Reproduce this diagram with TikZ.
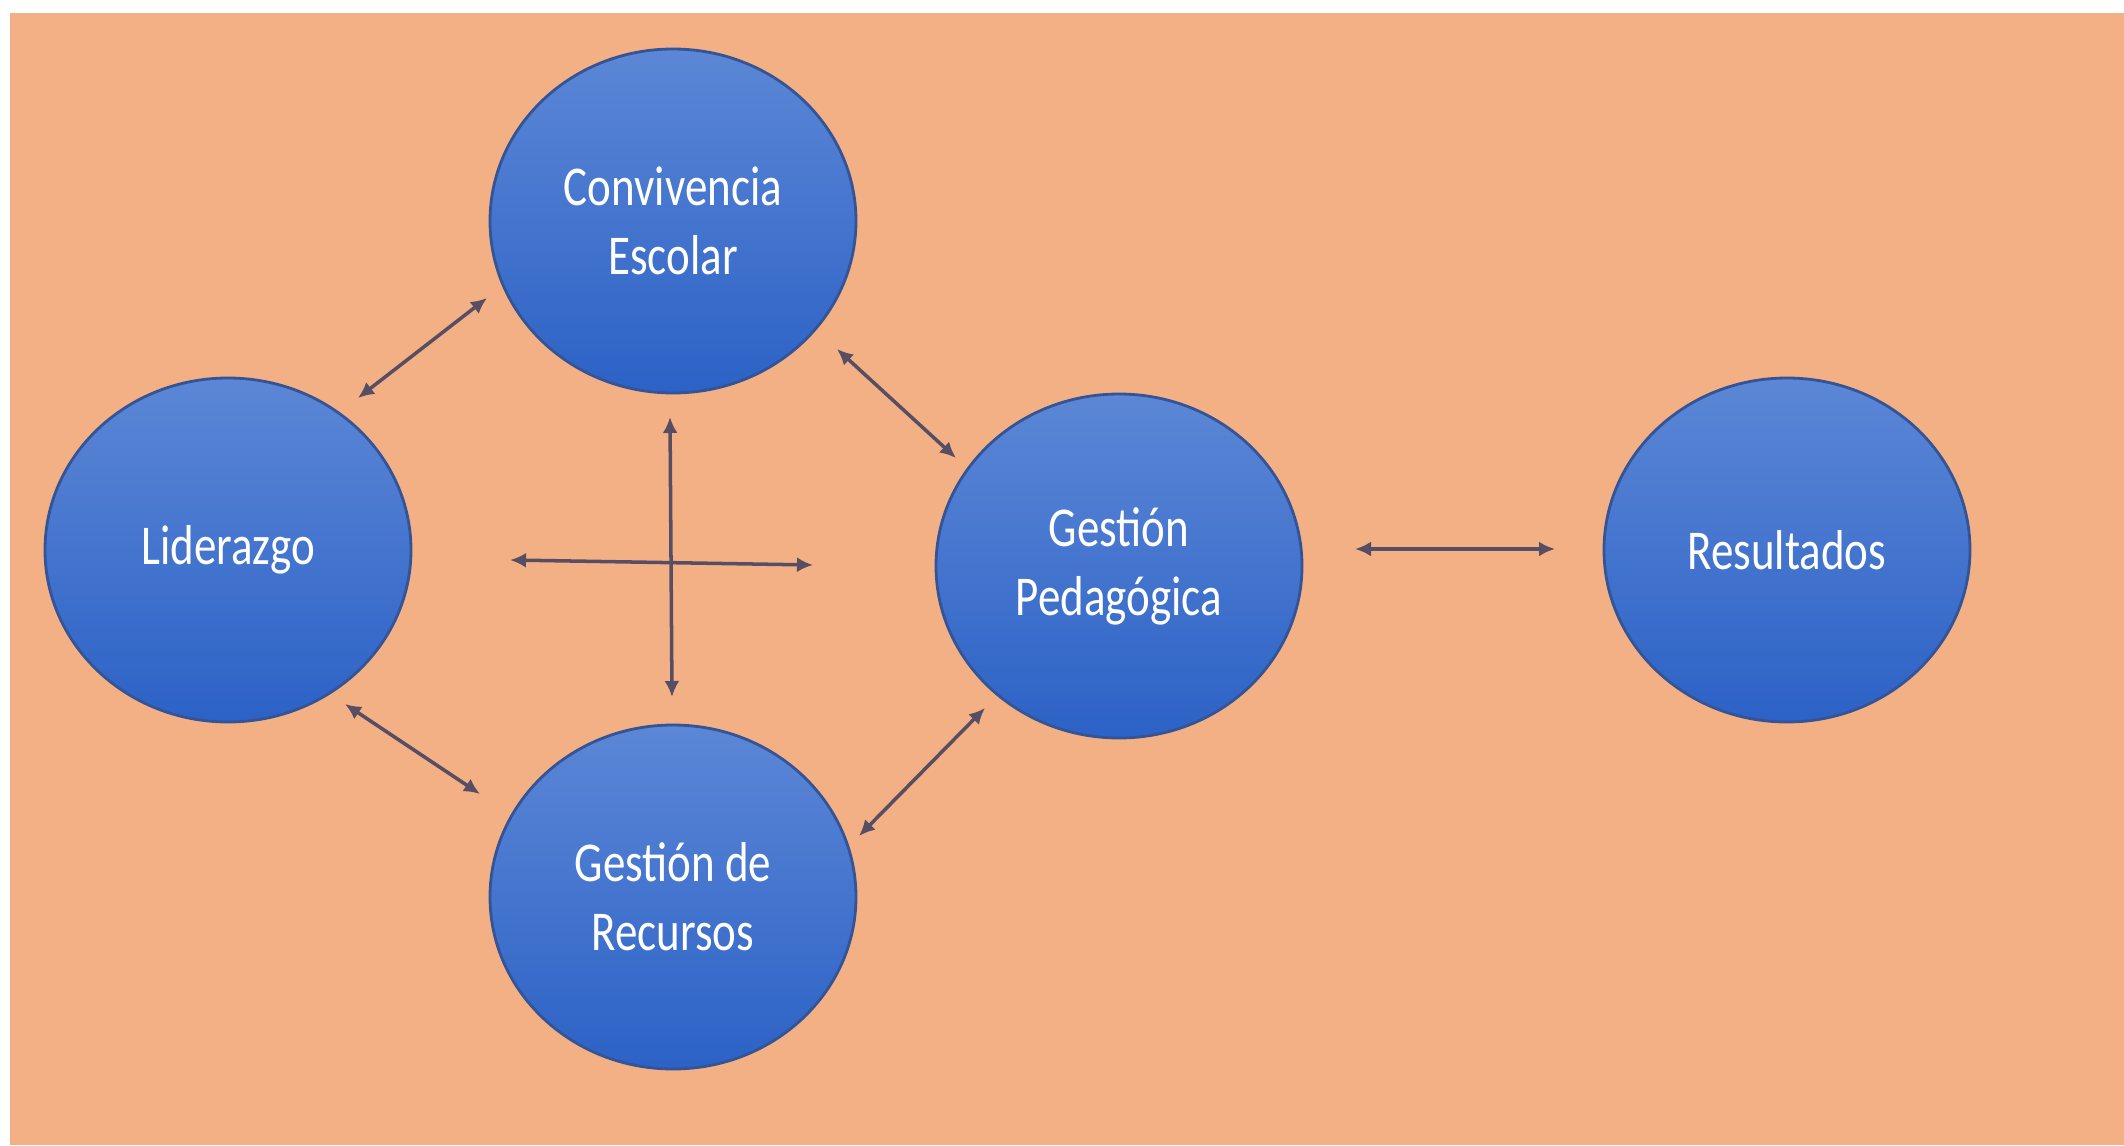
\documentclass[tikz,border=0pt]{standalone}
\usepackage{fontspec}
\setmainfont[FakeStretch=0.8]{Carlito}
\usetikzlibrary{arrows.meta,shapes.geometric}
\definecolor{fondo}{RGB}{243,176,132}
\definecolor{azulclaro}{RGB}{92,135,214}
\definecolor{azuloscuro}{RGB}{44,98,198}
\definecolor{borde}{RGB}{52,84,150}
\definecolor{flecha}{RGB}{88,78,100}

\begin{document}
\begin{tikzpicture}[
  area/.style={ellipse,minimum width=3.66cm,minimum height=3.44cm,inner sep=0pt,
    top color=azulclaro,bottom color=azuloscuro,draw=borde,line width=0.8pt,
    text=white,align=center,font=\fontsize{16}{19.6}\selectfont},
  enlace/.style={{Latex[length=1.6mm,width=1.5mm]}-{Latex[length=1.6mm,width=1.5mm]},
    draw=flecha,line width=1pt}]
\useasboundingbox (0,0) rectangle (21.24,11.45);
\fill[white] (0,0) rectangle (21.24,11.45);
\fill[fondo] (0.10,0) rectangle (21.24,11.32);
\node[area] (conv) at (6.73,9.24) {Convivencia\\Escolar};
\node[area] (lid) at (2.28,5.95) {Liderazgo};
\node[area] (ped) at (11.19,5.79) {Gestión\\Pedagógica};
\node[area] (res) at (17.87,5.95) {Resultados};
\node[area] (rec) at (6.73,2.48) {Gestión de\\Recursos};
\coordinate (lidconv1) at (3.58,7.47);
\coordinate (lidconv2) at (4.87,8.47);
\coordinate (convped1) at (8.37,7.96);
\coordinate (convped2) at (9.56,6.87);
\coordinate (lidrec1) at (3.45,4.41);
\coordinate (lidrec2) at (4.80,3.51);
\coordinate (recped1) at (8.59,3.09);
\coordinate (recped2) at (9.85,4.37);
\coordinate (vert1) at (6.70,7.28);
\coordinate (vert2) at (6.72,4.48);
\coordinate (hor1) at (5.10,5.85);
\coordinate (hor2) at (8.13,5.80);
\coordinate (pedres1) at (13.55,5.96);
\coordinate (pedres2) at (15.55,5.96);
\draw[enlace] (lidconv1) -- (lidconv2);
\draw[enlace] (convped1) -- (convped2);
\draw[enlace] (lidrec1) -- (lidrec2);
\draw[enlace] (recped1) -- (recped2);
\draw[enlace] (vert1) -- (vert2);
\draw[enlace] (hor1) -- (hor2);
\draw[enlace] (pedres1) -- (pedres2);
\end{tikzpicture}
\end{document}
